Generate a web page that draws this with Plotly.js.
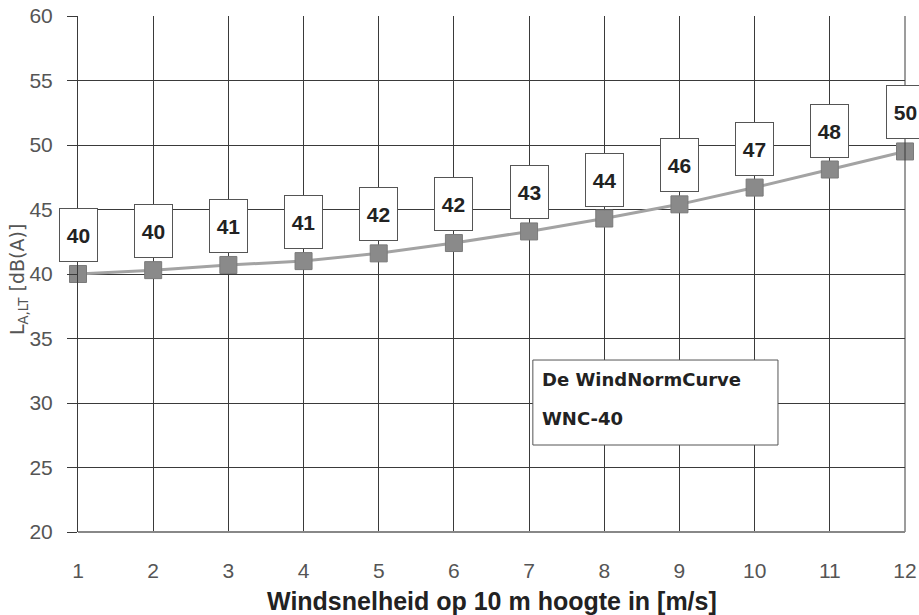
<!DOCTYPE html>
<html>
<head>
<meta charset="utf-8">
<script src="https://cdn.plot.ly/plotly-3.0.1.min.js"></script>
<style>html,body{margin:0;padding:0;background:#fff}#chart{width:919px;height:615px}</style>
</head>
<body>
<div id="chart"></div>
<script>
const windSpeeds = [1, 2, 3, 4, 5, 6, 7, 8, 9, 10, 11, 12];
const levels = [40.0, 40.3, 40.7, 41.0, 41.6, 42.4, 43.3, 44.3, 45.4, 46.7, 48.1, 49.5];
const labelTexts = ["40", "40", "41", "41", "42", "42", "43", "44", "46", "47", "48", "50"];
const yTicks = [20, 25, 30, 35, 40, 45, 50, 55, 60];
const legendLines = ["De WindNormCurve", "WNC-40"];
const xTitle = "Windsnelheid op 10 m hoogte in [m/s]";
const yTitle = "L<sub>A,LT</sub> [dB(A)]";

const FONT = 'Liberation Sans, Arial, sans-serif';

const trace = {
  x: windSpeeds,
  y: levels,
  type: 'scatter',
  mode: 'lines+markers',
  line: {color: '#a3a3a3', width: 3},
  marker: {symbol: 'square', size: 17, color: '#8a8a8a', line: {color: '#7a7a7a', width: 1}},
  hoverinfo: 'skip',
  cliponaxis: false
};

const annotations = windSpeeds.map((x, i) => ({
  x: x, y: levels[i], xref: 'x', yref: 'y',
  text: '<b>' + labelTexts[i] + '</b>',
  showarrow: false,
  yshift: 39,
  width: 33, height: 48,
  bgcolor: '#ffffff',
  bordercolor: '#555',
  borderwidth: 1,
  borderpad: 2,
  font: {family: FONT, size: 21, color: '#222'}
}));

// legend-like text box
const legendY = [0.2946, 0.2209];
legendLines.forEach((t, i) => annotations.push({
  xref: 'paper', yref: 'paper', x: 0.5586, y: legendY[i],
  xanchor: 'left', yanchor: 'middle', align: 'left',
  text: '<b>' + t + '</b>', showarrow: false,
  font: {family: 'DejaVu Sans, sans-serif', size: 18, color: '#222'}
}));

// y-axis title
annotations.push({
  xref: 'paper', yref: 'paper', x: -0.0726, y: 0.49,
  xanchor: 'center', yanchor: 'middle', textangle: -90,
  text: yTitle, showarrow: false,
  font: {family: 'DejaVu Sans, sans-serif', size: 19, color: '#555'}
});

// x-axis title
annotations.push({
  xref: 'paper', yref: 'paper', x: 0.5, y: -0.1337,
  xanchor: 'center', yanchor: 'middle',
  text: '<b>' + xTitle + '</b>', showarrow: false,
  font: {family: FONT, size: 25, color: '#222'}
});

const layout = {
  width: 919, height: 615,
  margin: {l: 78, r: 14, t: 16, b: 83},
  paper_bgcolor: '#ffffff', plot_bgcolor: '#ffffff',
  showlegend: false,
  xaxis: {
    range: [1, 12], tickvals: windSpeeds, ticktext: windSpeeds.map(String),
    showgrid: true, gridcolor: '#3a3a3a', gridwidth: 1,
    zeroline: false, showline: false, ticks: '',
    ticklabelstandoff: 24,
    tickfont: {family: FONT, size: 21, color: '#555'},
    automargin: false
  },
  yaxis: {
    range: [20, 60], tickvals: yTicks,
    showgrid: true, gridcolor: '#3a3a3a', gridwidth: 1,
    zeroline: false, showline: true, linecolor: '#3a3a3a', linewidth: 1,
    ticks: 'outside', ticklen: 10, tickcolor: '#3a3a3a',
    ticklabelstandoff: 10,
    tickfont: {family: FONT, size: 21, color: '#555'},
    automargin: false
  },
  shapes: [
    {type: 'line', xref: 'paper', yref: 'paper', x0: 1, x1: 1, y0: 0, y1: 1, line: {color: '#3a3a3a', width: 1}},
    {type: 'line', xref: 'paper', yref: 'paper', x0: 0, x1: 1, y0: 0, y1: 0, line: {color: '#888', width: 2}},
    {type: 'rect', xref: 'paper', yref: 'paper', x0: 0.550, x1: 0.8464, y0: 0.1686, y1: 0.3333,
     fillcolor: '#ffffff', line: {color: '#555', width: 1}, layer: 'above'}
  ],
  annotations: annotations
};

Plotly.newPlot('chart', [trace], layout, {staticPlot: true, displayModeBar: false});
</script>
</body>
</html>
